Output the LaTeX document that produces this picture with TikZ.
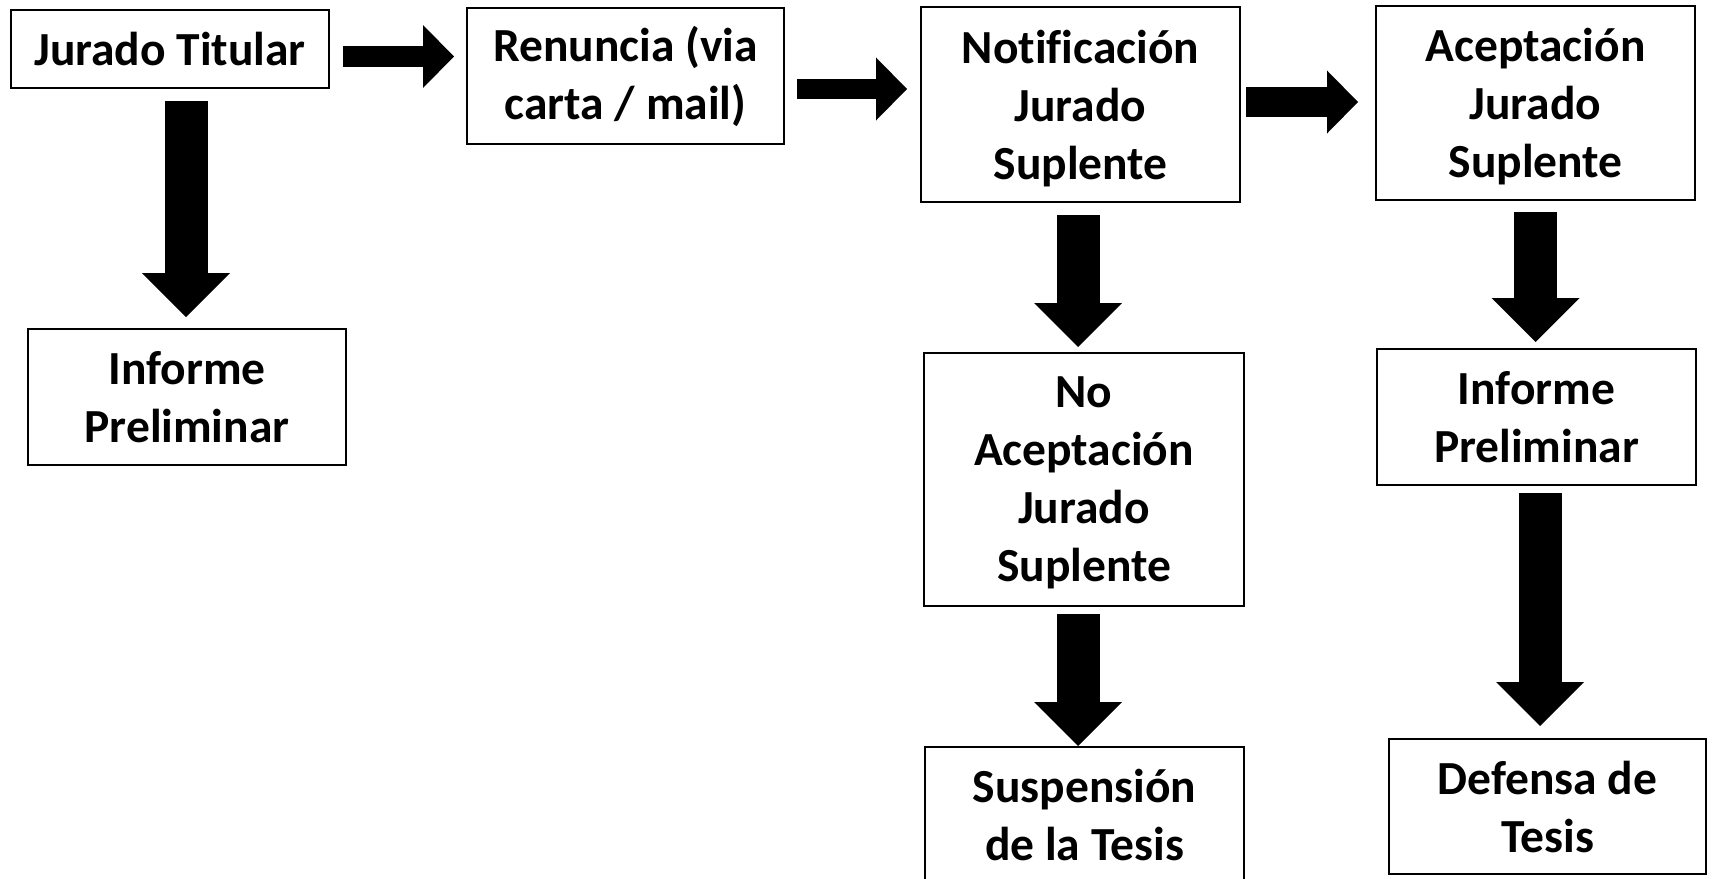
\documentclass[tikz,border=0pt]{standalone}
\usepackage{fontspec}
\setmainfont[Ligatures=NoCommon]{Carlito}
\usetikzlibrary{arrows.meta}
\newcommand{\zerodp}[1]{\raisebox{0pt}[\height][0pt]{#1}}
\tikzset{
  box/.style={draw=black, line width=1.8pt, fill=white, inner sep=0pt, outer sep=0pt,
    align=center, font=\bfseries\fontsize{47.5}{58}\selectfont},
  harrow/.style={line width=#1, -{Triangle[length=31pt, width=63pt, line width=0pt]}},
  varrow/.style={line width=43pt, -{Triangle[length=44pt, width=88pt, line width=0pt]}},
}
\begin{document}
\begin{tikzpicture}[x=1pt, y=-1pt]
\useasboundingbox[fill=white] (0,0) rectangle (1712,878);

\node[box, minimum width=318pt, minimum height=78pt] (jt) at (170,49) {Jurado Titular};
\node[box, minimum width=318pt, minimum height=136pt] (ip1) at (187,397) {Informe\\Preliminar};
\node[box, minimum width=317pt, minimum height=136pt] (ren) at (625.5,76) {Renuncia (via\\carta / mail)};
\node[box, minimum width=319pt, minimum height=195pt] (not) at (1080.5,104.5) {Notificación\\Jurado\\\zerodp{Suplente}};
\node[box, minimum width=319pt, minimum height=194pt] (acc) at (1535.5,103) {Aceptación\\Jurado\\\zerodp{Suplente}};
\node[box, minimum width=320pt, minimum height=253pt] (noa) at (1084,479.5) {No\\Aceptación\\Jurado\\\zerodp{Suplente}};
\node[box, minimum width=319pt, minimum height=136pt] (ip2) at (1536.5,417) {Informe\\Preliminar};
\node[box, minimum width=319pt, minimum height=136pt] (sus) at (1084.5,815) {Suspensión\\de la Tesis};
\node[box, minimum width=317pt, minimum height=135pt] (def) at (1547.5,806.5) {Defensa de\\Tesis};

% horizontal block arrows
\draw[harrow=21pt] ([xshift=14pt,yshift=-7.5pt]jt.east) -- ([xshift=-13pt,yshift=-7.5pt]jt.east -| ren.west);
\draw[harrow=20pt] ([xshift=13pt,yshift=-13pt]ren.east) -- ([xshift=-14pt,yshift=-13pt]ren.east -| not.west);
\draw[harrow=30pt] ([xshift=6pt,yshift=2.5pt]not.east) -- ([xshift=-18pt,yshift=2.5pt]not.east -| acc.west);

% vertical block arrows
\draw[varrow] ([xshift=16pt,yshift=-13pt]jt.south) -- ([xshift=-1pt,yshift=12pt]ip1.north);
\draw[varrow] ([xshift=-2.5pt,yshift=-13pt]not.south) -- ([xshift=-6pt,yshift=6pt]noa.north);
\draw[varrow] ([xshift=-6pt,yshift=-8pt]noa.south) -- ([xshift=-6.5pt,yshift=1pt]sus.north);
\draw[varrow] ([yshift=-12pt]acc.south) -- ([xshift=-1pt,yshift=7pt]ip2.north);
\draw[varrow] ([xshift=3.5pt,yshift=-8pt]ip2.south) -- ([xshift=-7.5pt,yshift=13pt]def.north);
\end{tikzpicture}
\end{document}
